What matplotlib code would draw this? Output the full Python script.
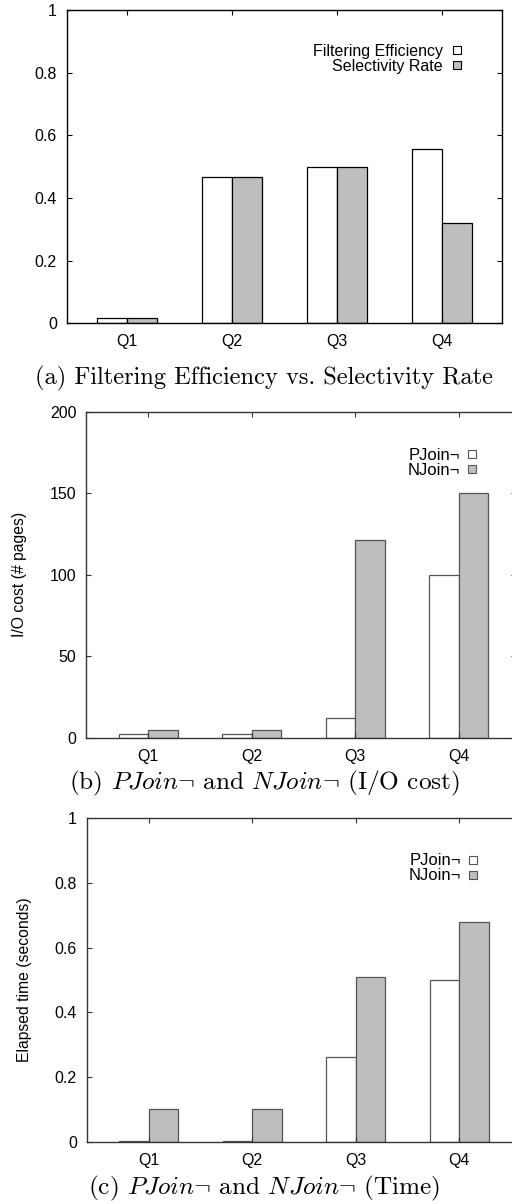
import matplotlib
matplotlib.use("Agg")
import matplotlib.pyplot as plt
import numpy as np
from matplotlib.lines import Line2D

queries = ["Q1", "Q2", "Q3", "Q4"]

# (a) filtering efficiency vs selectivity rate
filtering_eff = [0.016, 0.467, 0.499, 0.555]
selectivity = [0.016, 0.467, 0.499, 0.321]

# (b) I/O cost in pages
pjoin_io = [2, 2, 12, 100]
njoin_io = [5, 5, 121, 150]

# (c) elapsed time in seconds
pjoin_time = [0.001, 0.002, 0.261, 0.5]
njoin_time = [0.1, 0.1, 0.509, 0.68]

plt.rcParams["font.family"] = ["Liberation Sans", "DejaVu Sans"]
plt.rcParams["mathtext.fontset"] = "cm"

GRAY = "#bebebe"
W = 0.285

fig = plt.figure(figsize=(5.12, 12.04), dpi=100)


def draw_panel(ax, a, b, ylim, yticks, ylabels, xlim, edge, spine_col):
    x = np.arange(len(queries))
    ax.bar(x - W / 2, a, W, color="white", edgecolor=edge, linewidth=0.9)
    ax.bar(x + W / 2, b, W, color=GRAY, edgecolor=edge, linewidth=0.9)
    ax.set_xlim(*xlim)
    ax.set_ylim(*ylim)
    ax.set_xticks(x)
    ax.set_xticklabels(queries)
    ax.set_yticks(yticks)
    ax.set_yticklabels(ylabels)
    ax.tick_params(direction="in", top=True, right=True, length=3.5,
                   width=0.8, colors=spine_col, labelcolor="black",
                   labelsize=11.5)
    ax.tick_params(axis="y", pad=7)
    ax.tick_params(axis="x", pad=8)
    for s in ax.spines.values():
        s.set_color(spine_col)
        s.set_linewidth(1.0)
    handles = [
        Line2D([], [], marker="s", ls="none", ms=5.5, mfc="white", mec=edge, mew=0.8),
        Line2D([], [], marker="s", ls="none", ms=5.5, mfc=GRAY, mec=edge, mew=0.8),
    ]
    return handles


# panel (a)
ax1 = fig.add_axes([66.7 / 512, 1 - 323.3 / 1204, 435 / 512, 313.3 / 1204])
h = draw_panel(ax1, filtering_eff, selectivity, (0, 1),
               [0, 0.2, 0.4, 0.6, 0.8, 1], ["0", "0.2", "0.4", "0.6", "0.8", "1"],
               (-0.571, 3.571), "black", "black")
ax1.legend(h, ["Filtering Efficiency", "Selectivity Rate"], markerfirst=False,
           frameon=False, fontsize=11.5, handlelength=0.6, handletextpad=0.6,
           labelspacing=0.0, loc="upper right", bbox_to_anchor=(0.923, 0.913),
           borderaxespad=0)
fig.text(264 / 512, 1 - 378 / 1204, "(a) Filtering Efficiency vs. Selectivity Rate",
         family="cmr10", fontsize=17.6, ha="center", va="center")

# panel (b)
ax2 = fig.add_axes([86 / 512, 1 - 737.7 / 1204, 430 / 512, 326 / 1204])
h = draw_panel(ax2, pjoin_io, njoin_io, (0, 200),
               [0, 50, 100, 150, 200], ["0", "50", "100", "150", "200"],
               (-0.6, 3.555), "#555555", "#333333")
ax2.set_ylabel("I/O cost (# pages)", fontsize=11.3, labelpad=16)
ax2.legend(h, ["PJoin¬", "NJoin¬"], markerfirst=False,
           frameon=False, fontsize=12, handlelength=0.6, handletextpad=0.4,
           labelspacing=0.0, loc="upper right", bbox_to_anchor=(0.925, 0.91),
           borderaxespad=0)
fig.text(264 / 512, 1 - 783 / 1204, r"(b) $PJoin\neg$ and $NJoin\neg$ (I/O cost)",
         family="cmr10", fontsize=18.2, ha="center", va="center")

# panel (c)
ax3 = fig.add_axes([86.7 / 512, 1 - 1141.7 / 1204, 430 / 512, 323.4 / 1204])
h = draw_panel(ax3, pjoin_time, njoin_time, (0, 1),
               [0, 0.2, 0.4, 0.6, 0.8, 1], ["0", "0.2", "0.4", "0.6", "0.8", "1"],
               (-0.6, 3.555), "#555555", "#333333")
ax3.set_ylabel("Elapsed time (seconds)", fontsize=11.3, labelpad=16)
ax3.legend(h, ["PJoin¬", "NJoin¬"], markerfirst=False,
           frameon=False, fontsize=12, handlelength=0.6, handletextpad=0.4,
           labelspacing=0.0, loc="upper right", bbox_to_anchor=(0.925, 0.912),
           borderaxespad=0)
fig.text(264 / 512, 1 - 1188 / 1204, r"(c) $PJoin\neg$ and $NJoin\neg$ (Time)",
         family="cmr10", fontsize=18.2, ha="center", va="center")

fig.savefig("out.png", dpi=100)
